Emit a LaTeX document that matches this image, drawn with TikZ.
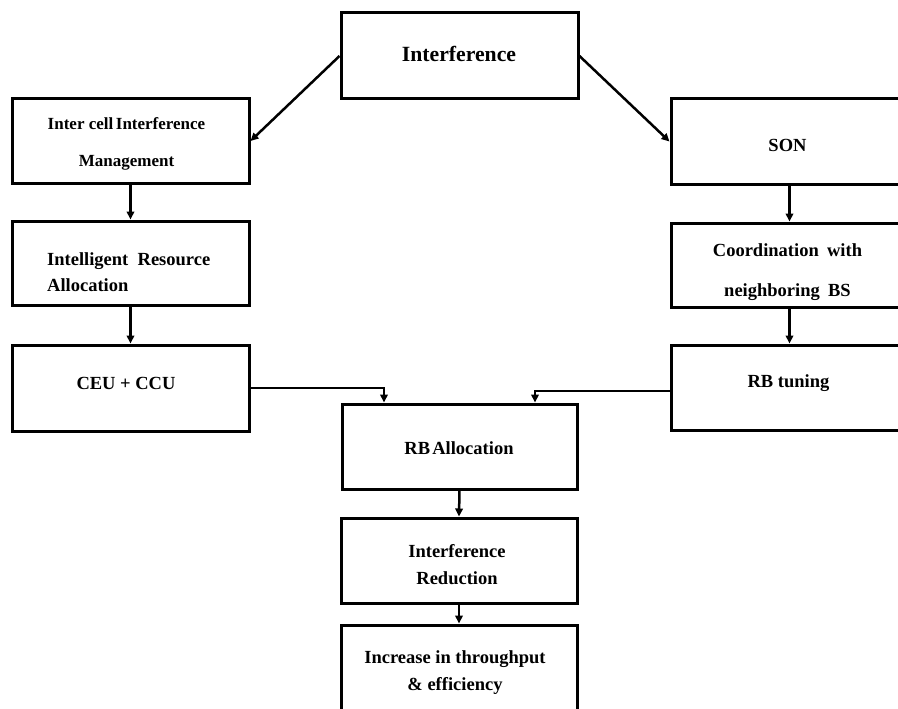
\documentclass[tikz,border=0pt]{standalone}
\usepackage{fontspec}
\setmainfont{Liberation Serif}
\usetikzlibrary{arrows.meta}

\tikzset{
  box/.style={draw=black, line width=3pt, minimum width=237pt, minimum height=85pt,
    inner sep=0pt},
  txt/.style={inner sep=0pt, align=center, font=\bfseries\fontsize{18.5pt}{27pt}\selectfont},
  flow/.style={line width=2.5pt, -{Triangle[length=8pt,width=7.5pt]}},
}

\begin{document}
\begin{tikzpicture}[x=1pt,y=-1pt]
\path[fill=white, use as bounding box] (0,0) rectangle (898,709);

% frames
\node[box, minimum height=86pt] (intf) at (459.5,56) {};
\node[box, minimum height=84pt] (icim) at (130.5,141) {};
\node[box, minimum height=84pt] (ira) at (130.5,263) {};
\node[box, minimum height=86pt] (ceu) at (130.5,388) {};
\node[box] (son) at (789.5,141.5) {};
\node[box, minimum height=84pt] (coord) at (789.5,265) {};
\node[box] (rbt) at (789.5,387.5) {};
\node[box, minimum width=235pt] (rba) at (459.5,446.5) {};
\node[box, minimum width=236pt] (ired) at (459,560.5) {};
\node[box, minimum width=236pt, minimum height=90pt] (inc) at (459,670) {};

% labels
\node[txt, font=\bfseries\fontsize{21.7pt}{26pt}\selectfont] (intf-t) at (459,54) {Interference};
\node[txt, font=\bfseries\fontsize{17pt}{37pt}\selectfont] (icim-t) at (126.5,144)
  {Inter cell\hspace{0.15em}Interference\\Management};
\node[txt, align=left, anchor=west, font=\bfseries\fontsize{18.5pt}{26pt}\selectfont]
  (ira-t) at (47,272) {Intelligent\hspace{0.5em}Resource\\Allocation};
\node[txt] (ceu-t) at (126,383) {CEU + CCU};
\node[txt] (son-t) at (787.5,145) {SON};
\node[txt, font=\bfseries\fontsize{18.5pt}{40pt}\selectfont] (coord-t) at (787.5,272)
  {Coordination\hspace{0.45em}with\\neighboring\hspace{0.45em}BS};
\node[txt] (rbt-t) at (788.5,383) {RB tuning};
\node[txt] (rba-t) at (459,448) {RB\hspace{0.12em}Allocation};
\node[txt] (ired-t) at (457,564.5) {Interference\\Reduction};
\node[txt] (inc-t) at (455,672.5) {Increase in throughput\\\& efficiency};

% connectors
\draw[flow] (intf.west) -- (icim.east);
\draw[flow] (intf.east) -- (son.west);
\draw[flow] (icim.south) -- (ira.north);
\draw[flow] (ira.south) -- (ceu.north);
\draw[flow] (son.south) -- (coord.north);
\draw[flow] (coord.south) -- (rbt.north);
\draw[flow] (ceu.east) -| ([xshift=-75.5pt]rba.north);
\draw[flow] ([yshift=-3.5pt]rbt.west) -| ([xshift=75.5pt]rba.north);
\draw[flow] (rba.south) -- (ired.north);
\draw[flow] (ired.south) -- (inc.north);
\end{tikzpicture}
\end{document}
